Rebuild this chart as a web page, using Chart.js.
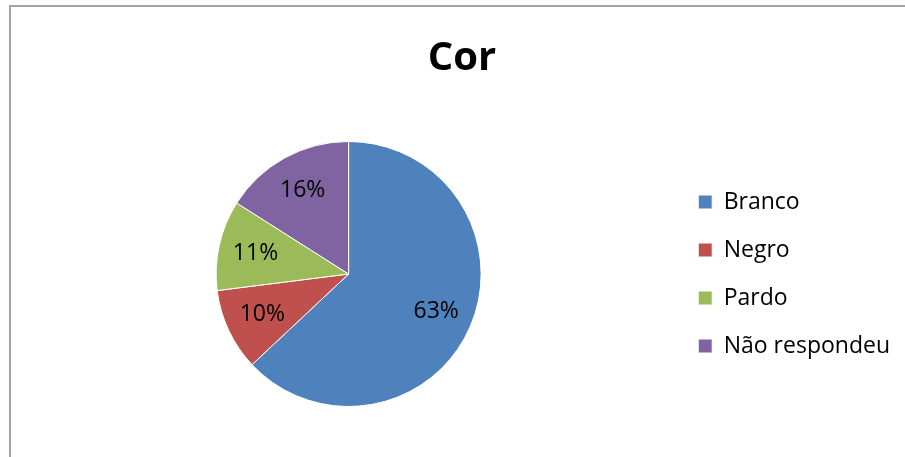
<!DOCTYPE html>
<html>
<head>
<meta charset="utf-8">
<script src="https://cdn.jsdelivr.net/npm/chart.js@4/dist/chart.umd.min.js"></script>
<style>
  html, body { margin: 0; padding: 0; background: #fff; overflow: hidden; }
  #wrap { position: relative; width: 940px; height: 457px; }
  #frame { position: absolute; left: 9px; top: 5px; width: 960px; height: 480px;
           border-left: 2px solid #a3a3a3; border-top: 2px solid #a3a3a3; }
</style>
</head>
<body>
<div id="frame"></div>
<div id="wrap"><canvas id="cor"></canvas></div>
<script>
// dados do grafico "Cor"
var categorias = ["Branco", "Negro", "Pardo", "Não respondeu"];
var percentuais = [63, 10, 11, 16];
var cores = ["#4F81BD", "#C0504D", "#9BBB59", "#8064A2"];

var fonte = "'Open Sans', sans-serif";

// rotulos de porcentagem dentro das fatias
var rotulosPlugin = {
  id: "rotulos",
  afterDatasetsDraw: function(chart) {
    var ctx = chart.ctx;
    var meta = chart.getDatasetMeta(0);
    var total = percentuais.reduce(function(a, b) { return a + b; }, 0);
    ctx.save();
    ctx.font = "23px " + fonte;
    ctx.fillStyle = "#000";
    ctx.textAlign = "center";
    ctx.textBaseline = "middle";
    meta.data.forEach(function(arc, i) {
      var p = arc.getProps(["x", "y", "startAngle", "endAngle", "outerRadius"], true);
      var meio = (p.startAngle + p.endAngle) / 2;
      var r = p.outerRadius * 0.72;
      var txt = Math.round(percentuais[i] / total * 100) + "%";
      ctx.fillText(txt, p.x + Math.cos(meio) * r, p.y + Math.sin(meio) * r);
    });
    ctx.restore();
  }
};

var ctx = document.getElementById("cor").getContext("2d");

var graficoCor = new Chart(ctx, {
  type: "pie",
  data: {
    labels: categorias,
    datasets: [{
      data: percentuais,
      backgroundColor: cores,
      borderColor: "#ffffff",
      borderWidth: 1
    }]
  },
  options: {
    responsive: true,
    maintainAspectRatio: false,
    animation: false,
    events: [],
    layout: { padding: { left: 24, right: 40, top: 0, bottom: 50 } },
    plugins: {
      title: {
        display: true,
        text: "Cor",
        color: "#000",
        font: { family: fonte, size: 40, weight: "bold" },
        padding: { top: 35, bottom: 58 }
      },
      legend: {
        display: true,
        position: "right",
        fullSize: false,
        labels: {
          color: "#000",
          font: { family: fonte, size: 23 },
          boxWidth: 14,
          boxHeight: 14,
          padding: 25
        }
      },
      tooltip: { enabled: false }
    }
  },
  plugins: [rotulosPlugin]
});
</script>
</body>
</html>
